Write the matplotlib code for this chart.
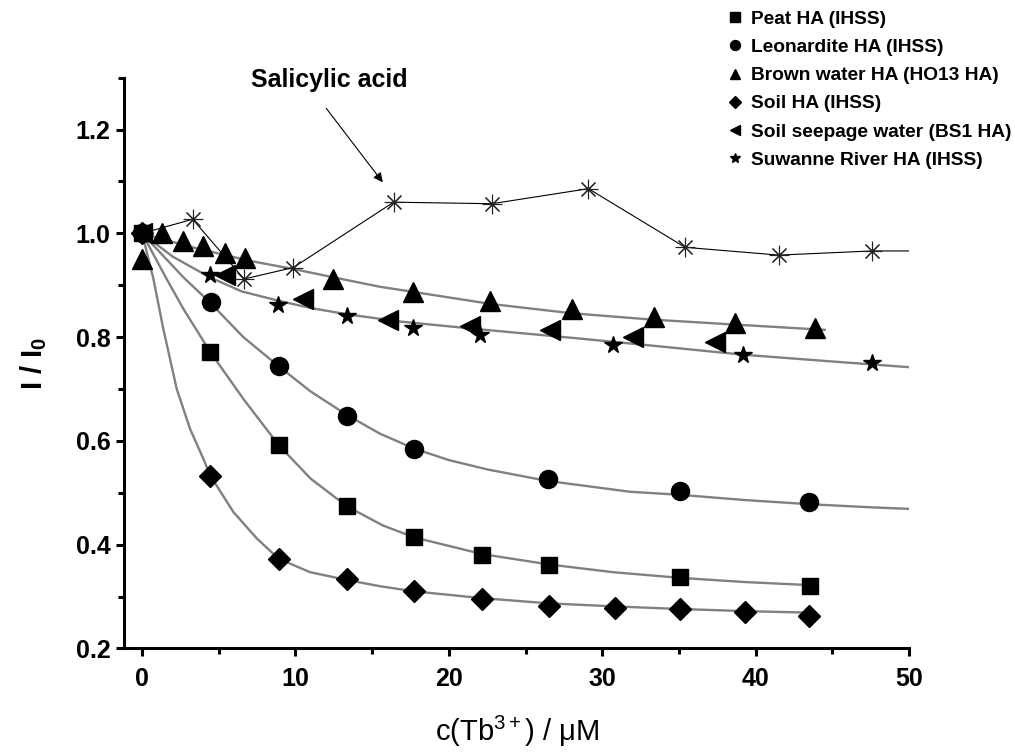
import matplotlib
matplotlib.use("Agg")
import matplotlib.pyplot as plt
from matplotlib.ticker import MultipleLocator, FormatStrFormatter

plt.rcParams['font.family'] = ['Liberation Sans', 'DejaVu Sans']
plt.rcParams['mathtext.fontset'] = 'custom'
plt.rcParams['mathtext.rm'] = 'Liberation Sans'
plt.rcParams['mathtext.it'] = 'Liberation Sans'
plt.rcParams['mathtext.bf'] = 'Liberation Sans:bold'

# measured points (Tb3+ concentration in uM, relative intensity)
peat_x = [0, 4.45, 8.9, 13.35, 17.75, 22.15, 26.5, 35.1, 43.55]
peat_y = [1.0, 0.771, 0.592, 0.474, 0.415, 0.381, 0.360, 0.338, 0.321]
leo_x = [0, 4.5, 8.9, 13.35, 17.75, 26.45, 35.1, 43.5]
leo_y = [1.0, 0.867, 0.744, 0.648, 0.585, 0.526, 0.504, 0.482]
brown_x = [0, 1.28, 2.65, 4.0, 5.41, 6.71, 12.47, 17.64, 22.69, 28.0, 33.35, 38.66, 43.87]
brown_y = [0.95, 1.001, 0.985, 0.976, 0.963, 0.953, 0.912, 0.886, 0.870, 0.854, 0.838, 0.828, 0.818]
soil_x = [0, 4.45, 8.9, 13.35, 17.75, 22.15, 26.5, 30.85, 35.1, 39.3, 43.5]
soil_y = [1.0, 0.533, 0.373, 0.333, 0.310, 0.295, 0.282, 0.278, 0.276, 0.270, 0.263]
seep_x = [0, 5.41, 10.5, 16.06, 21.38, 26.6, 32.03, 37.35]
seep_y = [1.0, 0.919, 0.873, 0.832, 0.822, 0.813, 0.801, 0.790]
suw_x = [0, 4.43, 8.89, 13.34, 17.69, 22.03, 30.68, 39.2, 47.57]
suw_y = [1.0, 0.919, 0.862, 0.841, 0.817, 0.804, 0.785, 0.765, 0.750]
sal_x = [0, 3.3, 6.65, 9.86, 16.4, 22.8, 29.1, 35.4, 41.5, 47.6, 53.8]
sal_y = [1.0, 1.027, 0.912, 0.934, 1.060, 1.057, 1.086, 0.973, 0.958, 0.966, 0.966]

# fitted curves
peat_fit_x = [0, 1.6, 2.7, 4.45, 6.6, 8.9, 11.0, 13.35, 15.7, 17.75, 22.15, 26.5, 30.7, 35.1, 39.3, 43.6]
peat_fit_y = [1.0, 0.912, 0.854, 0.771, 0.681, 0.592, 0.527, 0.474, 0.437, 0.414, 0.382, 0.362, 0.347, 0.336, 0.328, 0.322]
leo_fit_x = [0, 2.7, 4.45, 6.6, 8.9, 11.0, 13.35, 15.5, 17.75, 20.0, 22.5, 26.4, 31.8, 35.1, 39.3, 43.5, 47.5, 50]
leo_fit_y = [1.0, 0.915, 0.866, 0.800, 0.744, 0.695, 0.650, 0.614, 0.585, 0.563, 0.545, 0.523, 0.502, 0.496, 0.486, 0.478, 0.472, 0.469]
soil_fit_x = [0, 0.74, 1.39, 2.26, 3.13, 4.0, 4.45, 5.95, 7.48, 8.9, 10.95, 13.35, 15.5, 17.75, 22.15, 26.5, 30.85, 35.1, 39.3, 43.5]
soil_fit_y = [1.0, 0.912, 0.815, 0.700, 0.623, 0.565, 0.533, 0.463, 0.412, 0.373, 0.347, 0.332, 0.320, 0.310, 0.297, 0.287, 0.281, 0.276, 0.272, 0.269]
brown_fit_x = [0, 3.0, 7.0, 9.9, 12.5, 15.5, 17.7, 22.7, 28.0, 33.1, 38.7, 44.5]
brown_fit_y = [1.0, 0.975, 0.947, 0.931, 0.915, 0.897, 0.887, 0.864, 0.846, 0.834, 0.824, 0.814]
suw_fit_x = [0, 2.0, 4.43, 6.5, 8.9, 11.0, 13.34, 16.8, 22.0, 28.6, 33.1, 39.2, 45.0, 50]
suw_fit_y = [1.0, 0.955, 0.915, 0.888, 0.870, 0.856, 0.844, 0.830, 0.815, 0.797, 0.784, 0.766, 0.753, 0.742]

labels = ['Peat HA (IHSS)', 'Leonardite HA (IHSS)', 'Brown water HA (HO13 HA)',
          'Soil HA (IHSS)', 'Soil seepage water (BS1 HA)', 'Suwanne River HA (IHSS)']

fig = plt.figure(figsize=(10.15, 7.55), dpi=100)
ax = fig.add_axes([0.1226, 0.1411, 0.7730, 0.7561])

gray = '#808080'
for fx, fy in [(peat_fit_x, peat_fit_y), (leo_fit_x, leo_fit_y), (soil_fit_x, soil_fit_y),
               (brown_fit_x, brown_fit_y), (suw_fit_x, suw_fit_y)]:
    ax.plot(fx, fy, color=gray, lw=1.7, zorder=2)

ax.plot(sal_x, sal_y, color='black', lw=0.8, marker=(8, 2, 0), ms=14,
        mec='#222222', mew=0.8, zorder=3)

series = [(peat_x, peat_y, 's', 12), (leo_x, leo_y, 'o', 13), (brown_x, brown_y, '^', 14),
          (soil_x, soil_y, 'D', 11.5), (seep_x, seep_y, '<', 14), (suw_x, suw_y, '*', 13)]
handles = []
for (sx, sy, m, s), lab in zip(series, labels):
    h, = ax.plot(sx, sy, ls='none', marker=m, ms=s, color='black', label=lab, zorder=4)
    handles.append(h)

ax.set_xlim(-1.15, 50)
ax.set_ylim(0.2, 1.30)
ax.xaxis.set_major_locator(MultipleLocator(10))
ax.xaxis.set_minor_locator(MultipleLocator(5))
ax.yaxis.set_major_locator(MultipleLocator(0.2))
ax.yaxis.set_minor_locator(MultipleLocator(0.1))
ax.yaxis.set_major_formatter(FormatStrFormatter('%.1f'))

for side in ['top', 'right']:
    ax.spines[side].set_visible(False)
for side in ['left', 'bottom']:
    ax.spines[side].set_linewidth(2.2)
ax.tick_params(which='major', direction='out', length=6, width=2.2, labelsize=18, pad=4)
ax.tick_params(axis='x', which='major', pad=7)
ax.tick_params(which='minor', direction='out', length=4, width=2.2)
for t in ax.get_xticklabels() + ax.get_yticklabels():
    t.set_fontweight('bold')

ax.set_xlabel('c(Tb$^{3+}$) / μM', fontsize=21, labelpad=17)
ax.set_ylabel('$\\mathbf{I\\ /\\ I_0}$', fontsize=21, labelpad=19)

ax.text(12.2, 1.295, 'Salicylic acid', fontsize=18, fontweight='bold', ha='center', va='center')
ax.annotate('', xy=(15.8, 1.094), xytext=(11.9, 1.245),
            arrowprops=dict(arrowstyle='-|>', color='black', lw=0.8, mutation_scale=14))

fig.legend(handles=handles, labels=labels, loc='upper left', bbox_to_anchor=(0.7169, 0.986),
           frameon=False, prop={'weight': 'bold', 'size': 13.8}, markerscale=0.55,
           handlelength=0.8, handletextpad=0.4, labelspacing=0.56, borderpad=0, borderaxespad=0)

fig.savefig('out.png', dpi=100)
